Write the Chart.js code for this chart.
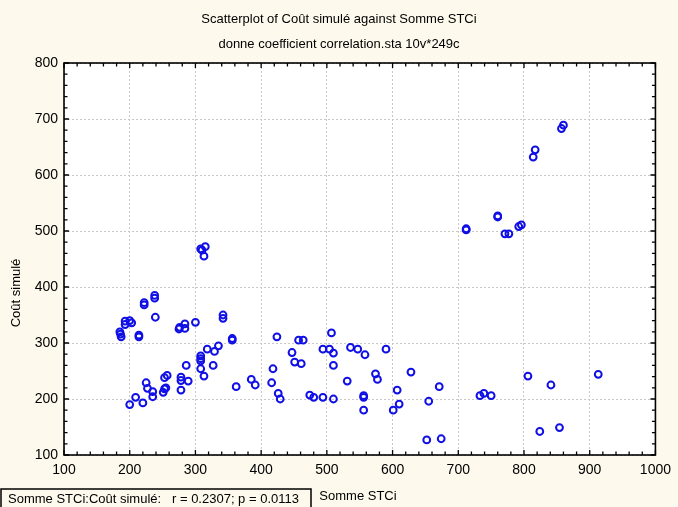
<!DOCTYPE html>
<html>
<head>
<meta charset="utf-8">
<script src="https://cdn.jsdelivr.net/npm/chart.js@4"></script>
<style>
  body { margin: 0; background: #fdf9ec; }
  #chart { display: block; }
</style>
</head>
<body>
<canvas id="chart" width="678" height="507"></canvas>
<script>
// Data (Somme STCi vs Coût simulé)
const sommeSTCi = [
  185, 186, 187, 193, 193, 200, 203, 214, 214, 222, 222, 238, 238, 239, 275, 276, 284, 284, 300, 342, 342, 356, 356,
  200, 209, 220, 225, 227, 235, 235, 251, 253, 255, 253, 257, 278, 278, 278, 286, 289, 308, 308, 308, 308, 313, 318, 327, 329, 335, 362, 385, 391,
  424, 457, 464, 507, 447, 494, 504, 510, 536, 547, 558, 590, 451, 461, 418, 510, 416, 426, 429, 474, 480, 494, 510, 531, 556, 556, 556, 574, 577, 628, 607, 671, 655, 610, 601,
  652, 674, 733, 739, 750, 806, 841, 913, 824, 854,
  712, 712, 760, 760, 771, 777, 792, 796, 814, 817, 857, 860,
  308, 310, 315, 313
];
const coutSimule = [
  320, 316, 311, 339, 333, 340, 336, 314, 311, 372, 368, 385, 380, 346, 325, 328, 334, 326, 337, 350, 344, 308, 305,
  190, 203, 193, 229, 219, 213, 204, 212, 218, 220, 238, 242, 239, 233, 216, 260, 232, 277, 272, 268, 254, 241, 289, 260, 285, 295, 222, 235, 225,
  311, 305, 305, 318, 283, 289, 289, 282, 292, 289, 279, 289, 266, 263, 254, 260, 229, 210, 200, 207, 203, 203, 200, 232, 206, 203, 180, 245, 235, 248, 216, 222, 196, 191, 180,
  127, 129, 206, 210, 206, 241, 225, 244, 142, 149,
  504, 502, 527, 525, 495, 495, 508, 511, 632, 645, 683, 689,
  468, 466, 472, 455
];
const xTicks = [100, 200, 300, 400, 500, 600, 700, 800, 900, 1000];
const yTicks = [100, 200, 300, 400, 500, 600, 700, 800];

const points = sommeSTCi.map((x, i) => ({ x: x, y: coutSimule[i] }));
const FONT = '"Liberation Sans", Arial, sans-serif';

// white plot area + frame with inward ticks + texts
const framePlugin = {
  id: 'frame',
  beforeDraw(chart) {
    const { ctx, chartArea: a } = chart;
    ctx.save();
    ctx.fillStyle = '#ffffff';
    ctx.fillRect(a.left, a.top, a.right - a.left, a.bottom - a.top);
    ctx.restore();
  },
  afterDraw(chart) {
    const { ctx, chartArea: a, scales } = chart;
    ctx.save();
    ctx.strokeStyle = '#000';
    ctx.lineWidth = 1.6;
    ctx.strokeRect(a.left, a.top, a.right - a.left, a.bottom - a.top);
    ctx.lineWidth = 1.3;
    ctx.beginPath();
    for (let v = 100; v <= 1000; v += 20) {
      const px = scales.x.getPixelForValue(v);
      const len = v % 100 === 0 ? 5 : 3.5;
      ctx.moveTo(px, a.bottom); ctx.lineTo(px, a.bottom - len);
      ctx.moveTo(px, a.top); ctx.lineTo(px, a.top + len);
    }
    for (let v = 100; v <= 800; v += 20) {
      const py = scales.y.getPixelForValue(v);
      const len = v % 100 === 0 ? 5 : 3.5;
      ctx.moveTo(a.left, py); ctx.lineTo(a.left + len, py);
      ctx.moveTo(a.right, py); ctx.lineTo(a.right - len, py);
    }
    ctx.stroke();

    ctx.fillStyle = '#000';
    ctx.font = '13px ' + FONT;
    ctx.textAlign = 'center';
    ctx.textBaseline = 'middle';
    ctx.fillText('Scatterplot of Coût simulé against Somme STCi', 339, 19);
    ctx.fillText('donne coefficient correlation.sta 10v*249c', 339, 44);
    ctx.fillText('Somme STCi', 358, 496);

    ctx.save();
    ctx.translate(16, 293);
    ctx.rotate(-Math.PI / 2);
    ctx.fillText('Coût simulé', 0, 0);
    ctx.restore();

    ctx.lineWidth = 1.5;
    ctx.strokeRect(1, 489, 310, 22);
    ctx.textAlign = 'left';
    ctx.fillText('Somme STCi:Coût simulé:   r = 0.2307; p = 0.0113', 8, 499);
    ctx.restore();
  }
};

new Chart(document.getElementById('chart'), {
  type: 'scatter',
  data: {
    datasets: [{
      label: 'Coût simulé',
      data: points,
      pointStyle: 'circle',
      pointRadius: 3.4,
      pointBorderWidth: 2,
      borderColor: '#0f0fe6',
      backgroundColor: 'rgba(0,0,0,0)'
    }]
  },
  options: {
    responsive: false,
    animation: false,
    layout: { padding: { top: 63, right: 20, left: 0, bottom: 0 } },
    plugins: { legend: { display: false }, tooltip: { enabled: false } },
    scales: {
      x: {
        type: 'linear', min: 100, max: 1000,
        afterFit: s => { s.height = 52; },
        afterBuildTicks: s => { s.ticks = xTicks.map(v => ({ value: v })); },
        ticks: { color: '#000', font: { family: FONT, size: 14 }, padding: 7, maxRotation: 0, callback: v => String(v) },
        grid: { color: '#c8c8c8', lineWidth: 1, drawTicks: false },
        border: { display: false, dash: [2, 2] }
      },
      y: {
        type: 'linear', min: 100, max: 800,
        afterFit: s => { s.width = 64; },
        afterBuildTicks: s => { s.ticks = yTicks.map(v => ({ value: v })); },
        ticks: { color: '#000', font: { family: FONT, size: 14 }, padding: 6, callback: v => String(v) },
        grid: { color: '#c8c8c8', lineWidth: 1, drawTicks: false },
        border: { display: false, dash: [2, 2] }
      }
    }
  },
  plugins: [framePlugin]
});
</script>
</body>
</html>
